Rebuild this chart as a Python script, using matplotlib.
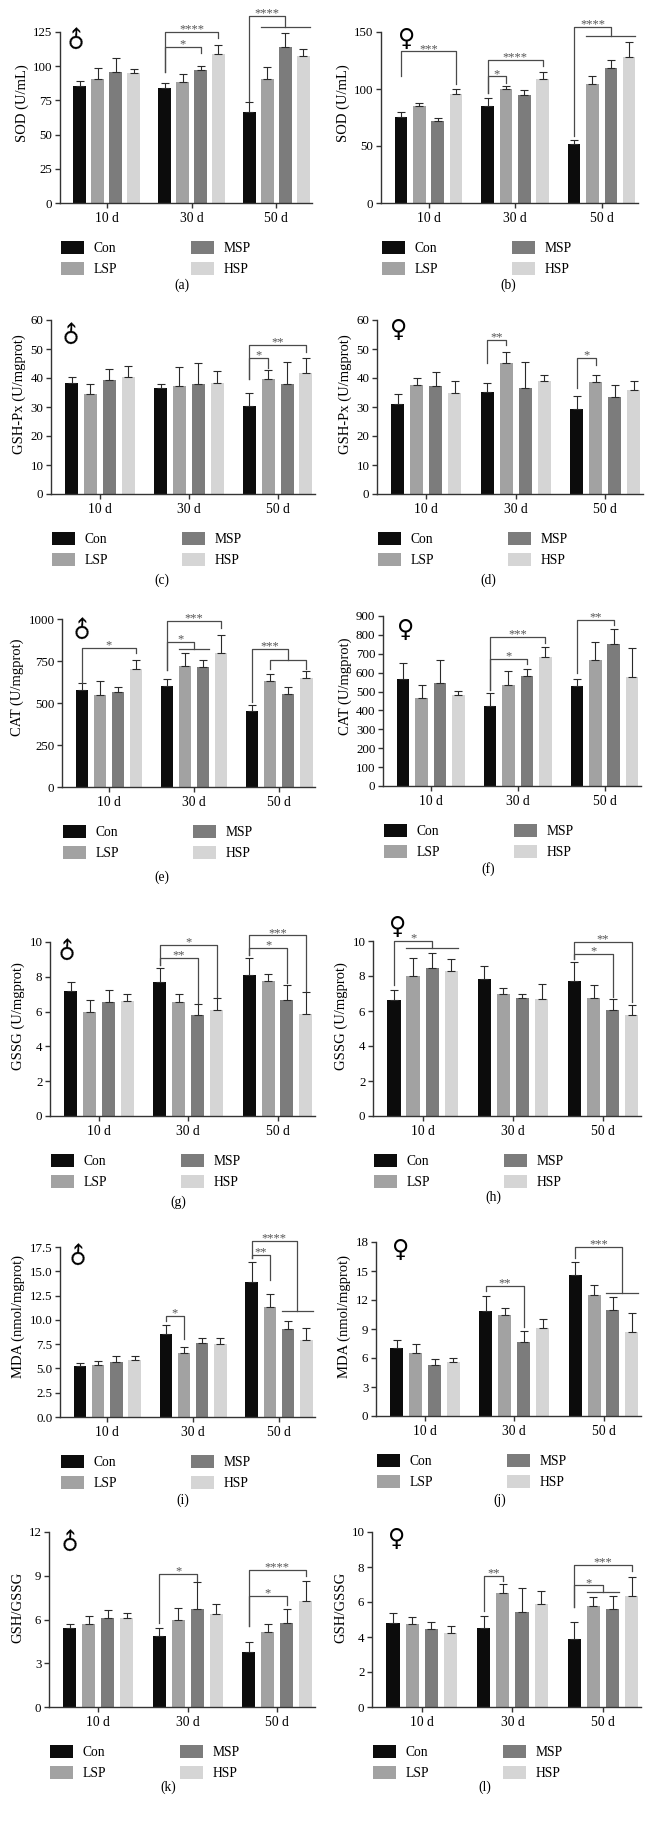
import numpy as np
import matplotlib.pyplot as plt
from matplotlib.patches import Patch

plt.rcParams['font.family'] = ['Liberation Serif', 'DejaVu Sans']

W, H = 653, 1825
days = ['10 d', '30 d', '50 d']
groups = ['Con', 'LSP', 'MSP', 'HSP']
colors = ['#0c0c0c', '#a2a2a2', '#7c7c7c', '#d5d5d5']

# rows = 10 d, 30 d, 50 d ; columns = Con, LSP, MSP, HSP (mean and SD)
sod_m = [[85.8, 90.6, 96.0, 95.0], [83.8, 88.2, 97.5, 109.0], [66.8, 90.9, 114.0, 107.5]]
sod_m_sd = [[3.1, 8.1, 10.0, 3.0], [3.9, 5.8, 2.9, 6.3], [6.8, 8.3, 10.0, 5.3]]
sod_f = [[75.4, 84.8, 71.6, 95.6], [85.4, 100.0, 94.7, 109.0], [51.8, 104.4, 118.4, 128.0]]
sod_f_sd = [[4.1, 2.9, 3.3, 4.4], [6.7, 2.9, 4.4, 6.2], [3.8, 7.3, 6.7, 13.0]]
gpx_m = [[38.4, 34.6, 39.2, 40.2], [36.7, 37.1, 38.0, 38.4], [30.4, 39.8, 37.9, 41.6]]
gpx_m_sd = [[1.9, 3.3, 3.9, 3.8], [1.4, 6.7, 7.2, 3.9], [4.4, 3.0, 7.5, 5.2]]
gpx_f = [[31.2, 37.6, 37.4, 34.9], [35.1, 45.3, 36.5, 39.0], [29.4, 38.5, 33.6, 35.8]]
gpx_f_sd = [[3.4, 2.3, 4.5, 4.1], [3.3, 3.8, 8.9, 2.0], [4.3, 2.6, 4.0, 3.0]]
cat_m = [[578, 547, 566, 701], [604, 721, 717, 800], [451, 628, 554, 650]]
cat_m_sd = [[40, 81, 32, 55], [37, 75, 39, 105], [40, 43, 40, 41]]
cat_f = [[569, 465, 545, 484], [423, 537, 580, 684], [529, 667, 750, 578]]
cat_f_sd = [[80, 70, 122, 18], [70, 71, 42, 53], [35, 93, 79, 150]]
gssg_m = [[7.16, 5.95, 6.55, 6.62], [7.68, 6.55, 5.82, 6.08], [8.12, 7.77, 6.66, 5.89]]
gssg_m_sd = [[0.56, 0.73, 0.72, 0.40], [0.82, 0.45, 0.63, 0.71], [0.96, 0.39, 0.86, 1.23]]
gssg_f = [[6.62, 8.02, 8.44, 8.28], [7.82, 6.95, 6.72, 6.68], [7.71, 6.72, 6.03, 5.76]]
gssg_f_sd = [[0.56, 1.03, 0.85, 0.72], [0.75, 0.34, 0.23, 0.84], [1.07, 0.76, 0.63, 0.61]]
mda_m = [[5.27, 5.34, 5.68, 5.89], [8.51, 6.61, 7.65, 7.54], [13.92, 11.37, 9.09, 7.92]]
mda_m_sd = [[0.31, 0.45, 0.59, 0.34], [0.93, 0.62, 0.51, 0.56], [2.03, 1.34, 0.80, 1.21]]
mda_f = [[7.01, 6.53, 5.29, 5.56], [10.82, 10.40, 7.64, 9.09], [14.55, 12.51, 10.92, 8.67]]
mda_f_sd = [[0.83, 0.97, 0.65, 0.49], [1.58, 0.76, 1.17, 0.90], [1.41, 1.04, 1.38, 2.01]]
ratio_m = [[5.39, 5.71, 6.10, 6.08], [4.87, 5.99, 6.72, 6.35], [3.79, 5.14, 5.78, 7.29]]
ratio_m_sd = [[0.30, 0.51, 0.55, 0.37], [0.55, 0.78, 1.85, 0.74], [0.67, 0.55, 0.94, 1.35]]
ratio_f = [[4.78, 4.74, 4.46, 4.23], [4.51, 6.51, 5.43, 5.90], [3.90, 5.75, 5.60, 6.32]]
ratio_f_sd = [[0.59, 0.38, 0.38, 0.42], [0.67, 0.52, 1.37, 0.75], [0.96, 0.52, 0.72, 1.11]]

# significance: (day, target bar(s), line height, Con leg bottom, target end, stars, sub-legs bottom)
sig_a = [(1, 2, 113.8, 96, 109.6, '*', None), (1, 3, 125, 96, 120.6, '****', None),
         (2, (1, 3), 136.5, 74.3, 129, '****', None)]
sig_b = [(0, 3, 133, 111, 104.7, '***', None), (1, 1, 111, 96.5, 105, '*', None),
         (1, 3, 125.7, 96.5, 120.5, '****', None), (2, (1, 3), 154.4, 58.5, 146.8, '****', None)]
sig_c = [(2, 1, 47, 39.7, 43.4, '*', None), (2, 3, 51.4, 39.7, 49.1, '**', None)]
sig_d = [(1, 1, 53.1, 45.1, 51.4, '**', None), (2, 1, 46.8, 36.7, 44.5, '*', None)]
sig_e = [(0, 3, 826, 622, 800, '*', None), (1, 3, 990, 697, 945, '***', None),
         (1, (1, 2), 861, 697, 820, '*', None), (2, (1, 3), 820, 503, 756, '***', 702)]
sig_f = [(1, 2, 672, 510, 645, '*', None), (1, 3, 787, 510, 755, '***', None),
         (2, 2, 879, 596, 852, '**', None)]
sig_g = [(1, 2, 9.08, 8.66, 6.5, '**', None), (1, 3, 9.81, 8.66, 6.85, '*', None),
         (2, 2, 9.65, 9.27, 7.64, '*', None), (2, 3, 10.38, 9.27, 7.2, '***', None)]
sig_h = [(0, (1, 3), 10.0, 7.48, 9.58, '*', None), (2, 2, 9.26, 8.95, 6.81, '*', None),
         (2, 3, 9.96, 8.95, 6.49, '**', None)]
sig_i = [(1, 1, 10.44, 9.89, 8.03, '*', None), (2, 1, 16.7, 16.36, 14.12, '**', None),
         (2, (2, 3), 18.15, 16.36, 10.92, '****', None)]
sig_j = [(1, 2, 13.48, 12.89, 9.16, '**', None), (2, (2, 3), 17.48, 16.34, 12.72, '***', None)]
sig_k = [(1, 2, 9.14, 5.76, 8.66, '*', None), (2, 2, 7.63, 5.53, 7.02, '*', None),
         (2, 3, 9.37, 5.53, 8.96, '****', None)]
sig_l = [(1, 1, 7.5, 5.47, 7.18, '**', None), (2, (1, 2), 6.95, 5.71, 6.55, '*', None),
         (2, 3, 8.13, 5.71, 7.75, '***', None)]

panels = [
    ('(a)', 'SOD (U/mL)', sod_m, sod_m_sd, sig_a, 'm', np.arange(0, 126, 25), '%d'),
    ('(b)', 'SOD (U/mL)', sod_f, sod_f_sd, sig_b, 'f', np.arange(0, 151, 50), '%d'),
    ('(c)', 'GSH-Px (U/mgprot)', gpx_m, gpx_m_sd, sig_c, 'm', np.arange(0, 61, 10), '%d'),
    ('(d)', 'GSH-Px (U/mgprot)', gpx_f, gpx_f_sd, sig_d, 'f', np.arange(0, 61, 10), '%d'),
    ('(e)', 'CAT (U/mgprot)', cat_m, cat_m_sd, sig_e, 'm', np.arange(0, 1001, 250), '%d'),
    ('(f)', 'CAT (U/mgprot)', cat_f, cat_f_sd, sig_f, 'f', np.arange(0, 901, 100), '%d'),
    ('(g)', 'GSSG (U/mgprot)', gssg_m, gssg_m_sd, sig_g, 'm', np.arange(0, 11, 2), '%d'),
    ('(h)', 'GSSG (U/mgprot)', gssg_f, gssg_f_sd, sig_h, 'f', np.arange(0, 11, 2), '%d'),
    ('(i)', 'MDA (nmol/mgprot)', mda_m, mda_m_sd, sig_i, 'm', np.arange(0, 17.6, 2.5), '%.1f'),
    ('(j)', 'MDA (nmol/mgprot)', mda_f, mda_f_sd, sig_j, 'f', np.arange(0, 19, 3), '%d'),
    ('(k)', 'GSH/GSSG', ratio_m, ratio_m_sd, sig_k, 'm', np.arange(0, 13, 3), '%d'),
    ('(l)', 'GSH/GSSG', ratio_f, ratio_f_sd, sig_l, 'f', np.arange(0, 11, 2), '%d'),
]

# pixel layout: axes left, right, zero line y, top tick y, sex symbol xy, panel label xy
layout = [
    (60, 312, 203, 32, (77, 40), (182, 285)),
    (381, 638, 203, 32, (407, 39), (508, 285)),
    (51, 315, 494, 320, (72, 335), (162, 580)),
    (377, 643, 494, 320, (399, 330), (488, 580)),
    (62, 315, 787, 619, (83, 630), (162, 877)),
    (383, 641, 786, 616, (406, 630), (488, 869)),
    (50, 315, 1116, 942, (68, 951), (178, 1202)),
    (373, 641, 1116, 941, (398, 927), (493, 1197)),
    (60, 315, 1417, 1247, (79, 1256), (183, 1500)),
    (376, 641, 1416, 1242, (401, 1250), (500, 1500)),
    (49, 315, 1707, 1532, (71, 1542), (168, 1787)),
    (372, 641, 1707, 1532, (397, 1539), (485, 1787)),
]

pitch, bw = 0.212, 0.146
offs = (np.arange(4) - 1.5) * pitch
xg = np.arange(3)
line_c = '#4a4a4a'

fig = plt.figure(figsize=(W / 100, H / 100), dpi=100)

for (lab, ylab, mean, sd, sig, sex, yt, fmt), (l, r, y0, yt_px, spos, lpos) in zip(panels, layout):
    mean = np.array(mean, float)
    sd = np.array(sd, float)
    ax = fig.add_axes([l / W, 1 - y0 / H, (r - l) / W, 200 / H])
    ax.patch.set_visible(False)
    ymax = yt[-1]
    ax.set_ylim(0, ymax * 200 / (y0 - yt_px))
    ax.set_xlim(-0.55, 2.42)

    for k in range(4):
        ax.bar(xg + offs[k], mean[:, k], width=bw, color=colors[k], label=groups[k],
               yerr=[np.zeros(3), sd[:, k]],
               error_kw=dict(ecolor='#2a2a2a', elinewidth=0.8, capsize=2.8, capthick=0.8))

    for d, tgt, ytop, ycon, yend, stars, legs in sig:
        xc = d + offs[0]
        if isinstance(tgt, tuple):
            a, b = tgt
            if legs is None:
                xa, xb = d + offs[a] - bw / 2, d + offs[b] + bw / 2
            else:
                xa, xb = d + offs[a], d + offs[b]
            xm = (xa + xb) / 2
            ax.plot([xc, xc, xm, xm], [ycon, ytop, ytop, yend], color=line_c, lw=0.9, clip_on=False)
            if legs is None:
                ax.plot([xa, xb], [yend, yend], color=line_c, lw=0.9, clip_on=False)
            else:
                ax.plot([xa, xa, xb, xb], [legs, yend, yend, legs], color=line_c, lw=0.9, clip_on=False)
            xs = (xc + xm) / 2
        else:
            xt = d + offs[tgt]
            ax.plot([xc, xc, xt, xt], [ycon, ytop, ytop, yend], color=line_c, lw=0.9, clip_on=False)
            xs = (xc + xt) / 2
        ax.annotate(stars, (xs, ytop), xytext=(0, -2.5), textcoords='offset points',
                    ha='center', va='bottom', fontsize=9, color='#555555')

    for s in ['top', 'right']:
        ax.spines[s].set_visible(False)
    for s in ['left', 'bottom']:
        ax.spines[s].set_color('#333333')
        ax.spines[s].set_linewidth(1.0)
    ax.spines['left'].set_bounds(0, ymax)
    ax.set_yticks(yt)
    ax.set_yticklabels([fmt % v for v in yt])
    ax.set_xticks(xg)
    ax.set_xticklabels(days)
    ax.tick_params(axis='both', direction='out', length=3.5, width=1.0, color='#333333',
                   labelsize=9.3, pad=2)
    ax.tick_params(axis='x', labelsize=9.8, pad=3)
    ax.set_ylabel(ylab, fontsize=10.5, labelpad=3)

    ax.legend(ncol=2, loc='upper left', bbox_to_anchor=((l + 1) / W, 1 - (y0 + 38) / H),
              bbox_transform=fig.transFigure, frameon=False, fontsize=9.8,
              handlelength=1.7, handleheight=1.1, handletextpad=0.7,
              columnspacing=5.4, labelspacing=0.5, borderpad=0, borderaxespad=0)

    if sex == 'm':
        fig.text(spos[0] / W, 1 - spos[1] / H, '\u2642', rotation=45, fontsize=17,
                 family='DejaVu Sans', ha='center', va='center')
    else:
        fig.text(spos[0] / W, 1 - spos[1] / H, '\u2640', fontsize=17,
                 family='DejaVu Sans', ha='center', va='center')
    fig.text(lpos[0] / W, 1 - lpos[1] / H, lab, ha='center', va='center', fontsize=9.8)

fig.savefig('out.png', dpi=100)
